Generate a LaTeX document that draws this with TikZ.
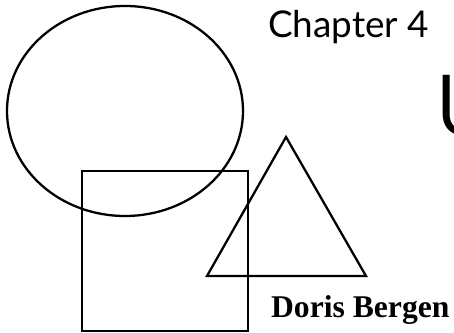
\documentclass[tikz,border=0pt]{standalone}
\usepackage{fontspec}
\setmainfont{Liberation Serif}
\newfontfamily\handfont{Lato}
\newfontfamily\titlefont{Open Sans}

\begin{document}
\begin{tikzpicture}[x=0.02cm,y=-0.02cm,line width=1.3pt]
\useasboundingbox (0,0) rectangle (454,333);
\clip (0,0) rectangle (454,333);
\draw (125,111) ellipse [x radius=118, y radius=105];
\draw (82,171) rectangle (248,331);
\draw (286,137) -- (207,276) -- (366,276) -- cycle;
%\node at (0,0) {};
\node[anchor=base west,inner sep=0] (chap) at (267,38) {\handfont\fontsize{21}{21}\selectfont Chapter 4};
\node[anchor=base west,inner sep=0] (author) at (270,318) {\bfseries\fontsize{18}{18}\selectfont Doris Bergen};
\node[anchor=base west,inner sep=0] (title) at (434,136) {\titlefont\fontsize{48}{48}\selectfont U};
\end{tikzpicture}
\end{document}
